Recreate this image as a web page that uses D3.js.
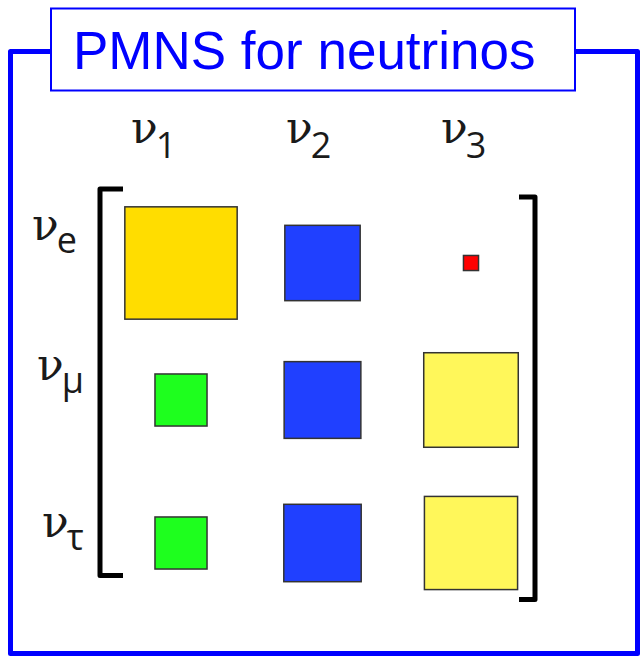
<!DOCTYPE html>
<html>
<head>
<meta charset="utf-8">
<script src="https://cdn.jsdelivr.net/npm/d3@7"></script>
<style>
  html, body { margin: 0; padding: 0; background: #fff; }
  svg { display: block; }
</style>
</head>
<body>
<script>
// ---- data ----
const title = "PMNS for neutrinos";
const flavours = ["e", "μ", "τ"];        // rows
const massStates = ["1", "2", "3"];      // columns
const rowE   = [0.82, 0.55, 0.11];
const rowMu  = [0.38, 0.56, 0.69];
const rowTau = [0.38, 0.565, 0.68];
const values = [rowE, rowMu, rowTau];

// ---- styles ----
const cellColors = [
  ["#FFDD00", "#2040FF", "#FF0000"],
  ["#1EFF1E", "#2040FF", "#FFF75A"],
  ["#1EFF1E", "#2040FF", "#FFF75A"]
];

const W = 644, H = 656;
const svg = d3.select("body").append("svg").attr("width", W).attr("height", H);

// outer frame
const blue = "#0000FF";
svg.append("path")
  .attr("d", "M50,51.5 H10.5 V653.5 H637.5 V51.5 H576")
  .attr("fill", "none").attr("stroke", blue).attr("stroke-width", 5)
  .attr("stroke-linejoin", "round");
// title box
svg.append("rect").attr("x", 51).attr("y", 8.5).attr("width", 524).attr("height", 82)
  .attr("fill", "#fff").attr("stroke", blue).attr("stroke-width", 2);
svg.append("text").attr("x", 73).attr("y", 69)
  .attr("font-family", "Liberation Sans, Arial, sans-serif").attr("font-size", 53)
  .attr("fill", blue).text(title);

// scales
const x = d3.scaleOrdinal().domain(massStates).range([181, 322.5, 471]);
const y = d3.scaleOrdinal().domain(flavours).range([263, 400, 543]);
const size = d3.scaleLinear().domain([0, 1]).range([0, 137]);
const colLabelX = d3.scaleOrdinal().domain(massStates).range([131, 286, 441]);
const rowLabelX = d3.scaleOrdinal().domain(flavours).range([32, 37, 42]);
const rowLabelY = d3.scaleOrdinal().domain(flavours).range([240, 380, 537]);

const nuFont = "DejaVu Serif, serif";
const subFont = "Open Sans, Noto Sans, DejaVu Sans, sans-serif";
const labelColor = "#1a1a1a";

// column labels
const cl = svg.append("g").selectAll("text").data(massStates).join("text")
  .attr("x", d => colLabelX(d)).attr("y", 143).attr("fill", labelColor);
cl.append("tspan").attr("font-family", nuFont).attr("font-size", 44).text("ν");
cl.append("tspan").attr("font-family", subFont).attr("font-size", 36).attr("dy", 15).attr("dx", -2).text(d => d);

// row labels
const rl = svg.append("g").selectAll("text").data(flavours).join("text")
  .attr("x", d => rowLabelX(d)).attr("y", d => rowLabelY(d)).attr("fill", labelColor);
rl.append("tspan").attr("font-family", nuFont).attr("font-size", 44).text("ν");
rl.append("tspan").attr("font-family", subFont).attr("font-size", 36).attr("dy", 13).attr("dx", -2).text(d => d);

// brackets
svg.append("path").attr("d", "M123,189 H100 V575.5 H123")
  .attr("fill", "none").attr("stroke", "#000").attr("stroke-width", 5).attr("stroke-linejoin", "round");
svg.append("path").attr("d", "M519,197 H535 V599.5 H519")
  .attr("fill", "none").attr("stroke", "#000").attr("stroke-width", 5).attr("stroke-linejoin", "round");

// cells
const cells = [];
flavours.forEach((f, i) => massStates.forEach((m, j) => {
  cells.push({ f, m, v: values[i][j], c: cellColors[i][j] });
}));
svg.append("g").selectAll("rect").data(cells).join("rect")
  .attr("x", d => x(d.m) - size(d.v) / 2)
  .attr("y", d => y(d.f) - size(d.v) / 2)
  .attr("width", d => size(d.v)).attr("height", d => size(d.v))
  .attr("fill", d => d.c).attr("stroke", "#333").attr("stroke-width", 1.5);
</script>
</body>
</html>
